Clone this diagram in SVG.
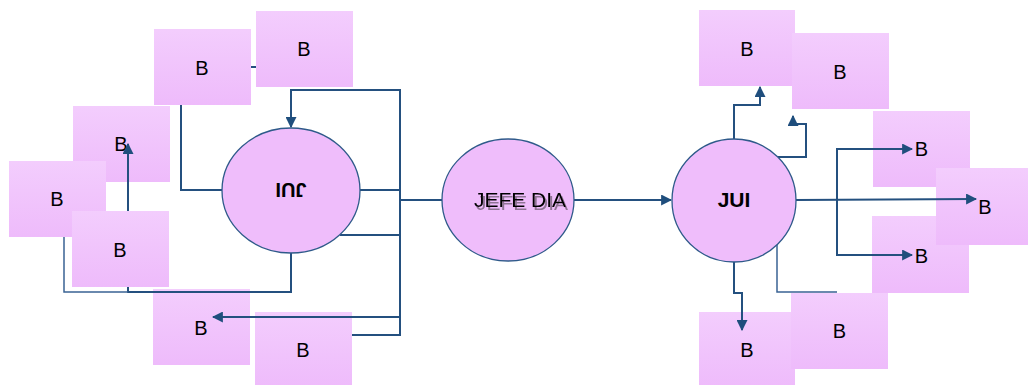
<svg xmlns="http://www.w3.org/2000/svg" width="1028" height="385" viewBox="0 0 1028 385">
<defs>
<linearGradient id="bg" x1="0" y1="0" x2="0" y2="1">
<stop offset="0" stop-color="#f3cdfd"/>
<stop offset="1" stop-color="#eebbfb"/>
</linearGradient>
<marker id="ah" viewBox="0 0 10 10" refX="9" refY="5" markerWidth="11" markerHeight="11" markerUnits="userSpaceOnUse" orient="auto">
<path d="M0,0 L10,5 L0,10 Z" fill="#1f4e7d"/>
</marker>
<filter id="shadow" x="-20%" y="-40%" width="140%" height="180%">
<feOffset in="SourceAlpha" dx="2" dy="3" result="o"/>
<feGaussianBlur in="o" stdDeviation="0.6" result="b"/>
<feFlood flood-color="#6e5a72" flood-opacity="0.75"/>
<feComposite in2="b" operator="in" result="s"/>
<feMerge><feMergeNode in="s"/><feMergeNode in="SourceGraphic"/></feMerge>
</filter>
</defs>
<style>
.box rect{fill:url(#bg);}
.box text{font-family:"Liberation Sans",Arial,sans-serif;font-size:20px;fill:#000;text-anchor:middle;}
.ell ellipse{fill:#efbdfb;stroke:#2f5a8a;stroke-width:1.3;}
.ell text{font-family:"Liberation Sans",Arial,sans-serif;font-size:20px;fill:#000;text-anchor:middle;}
.bold{font-weight:bold;}
.c path{fill:none;stroke:#24507f;stroke-width:2;}
.c path.t{stroke:#3a6394;stroke-width:1.5;}
.a{marker-end:url(#ah);}
</style>

<g id="boxes-back">
<g id="nodeA" class="box"><rect x="154" y="29" width="97" height="76"/><text x="202" y="74.5">B</text></g>
<g id="nodeB" class="box"><rect x="256" y="11" width="97" height="76"/><text x="304" y="56">B</text></g>
<g id="nodeC" class="box"><rect x="73" y="106" width="97" height="76"/><text x="121" y="151">B</text></g>
<g id="nodeD" class="box"><rect x="9" y="161" width="97" height="76"/><text x="57" y="206">B</text></g>
<g id="nodeF" class="box"><rect x="153" y="289" width="97" height="76"/><text x="201" y="335">B</text></g>
<g id="nodeG" class="box"><rect x="255" y="312" width="97" height="76"/><text x="303" y="357">B</text></g>
<g id="nodeR1" class="box"><rect x="699" y="10" width="96" height="76"/><text x="747" y="55.5">B</text></g>
<g id="nodeR2" class="box"><rect x="792" y="33" width="97" height="76"/><text x="840" y="78.5">B</text></g>
<g id="nodeR3" class="box"><rect x="873" y="111" width="97" height="76"/><text x="921.5" y="156">B</text></g>
<g id="nodeR5" class="box"><rect x="872" y="216" width="97" height="77"/><text x="921.5" y="262.5">B</text></g>
<g id="nodeR4" class="box"><rect x="936" y="168" width="92" height="77"/><text x="985" y="213.5">B</text></g>
<g id="nodeR7" class="box"><rect x="699" y="312" width="96" height="76"/><text x="747" y="357">B</text></g>
<g id="nodeR6" class="box"><rect x="791" y="293" width="97" height="76"/><text x="839.5" y="338">B</text></g>
</g>

<g id="connectors" class="c">
<path d="M251,67 H256"/>
<path d="M181,105 V190 H222"/>
<path class="a" d="M400,200 V90 H291 V127"/>
<path d="M360,190 H400"/>
<path d="M400,200 H442"/>
<path d="M340,235 H400"/>
<path class="a" d="M400,317 H213"/>
<path d="M352,335 H400 V200"/>
<path class="a" d="M291,253 V292 H128 V144"/>
<path class="t" d="M128,292 H64 V237"/>
<path class="a" d="M574,200 H671"/>
<path class="a" d="M734,139 V105 H760 V87"/>
<path class="a" d="M777,157 H806 V124 H793 V116"/>
<path class="a" d="M796,200 L976,199"/>
<path class="a" d="M837,200 V149 H912"/>
<path class="a" d="M837,200 V255 H912"/>
<path class="a" d="M734,262 V293 H742 V330"/>
<path class="t" d="M777,243 V292 H837"/>
</g>

<g id="boxes-front">
<g id="nodeE" class="box"><rect x="72" y="211" width="97" height="76"/><text x="120" y="256.5">B</text></g>
</g>

<g id="nodeINF" class="ell">
<ellipse cx="291" cy="190.5" rx="69" ry="62.5"/>
<text class="bold" x="291" y="197.7" transform="rotate(180 291 190.5)">JUI</text>
</g>
<g id="nodeJEFE" class="ell">
<ellipse cx="508" cy="200" rx="66" ry="61"/>
<text x="520" y="207" filter="url(#shadow)" style="font-size:21px">JEFE DIA</text>
</g>
<g id="nodeJUI" class="ell">
<ellipse cx="734" cy="200.5" rx="62" ry="61.5"/>
<text class="bold" x="734" y="207" style="font-size:21px">JUI</text>
</g>
</svg>
